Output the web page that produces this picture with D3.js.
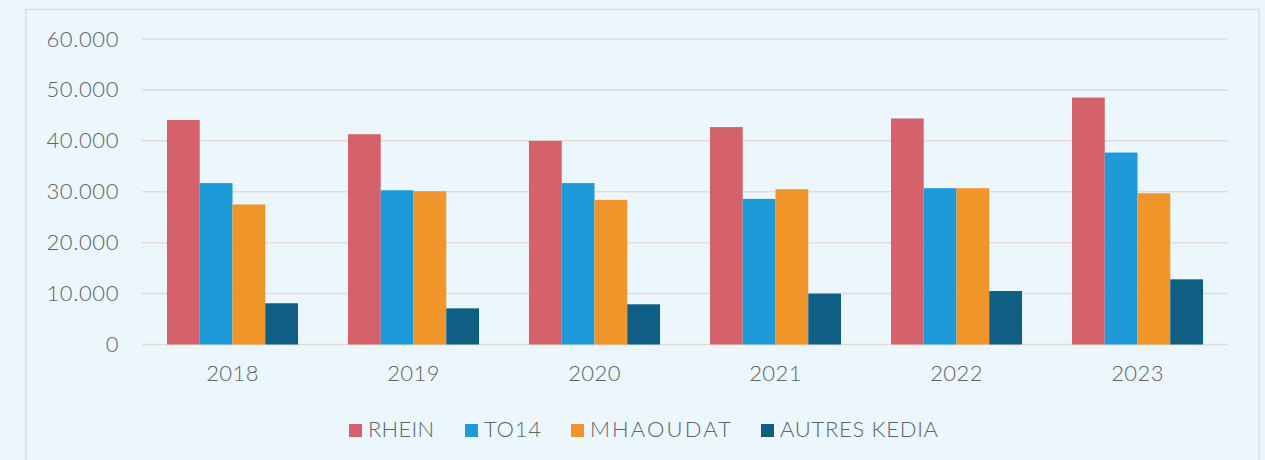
<!DOCTYPE html>
<html><head><meta charset="utf-8">
<script src="https://cdn.jsdelivr.net/npm/d3@7"></script>
<style>
html,body{margin:0;padding:0;background:#eaf5fc;}
svg{display:block;}
text{font-family:"Lato","Open Sans",sans-serif;font-weight:300;fill:#636363;}
</style></head><body>
<svg id="c" width="1265" height="460"></svg>
<script>
const categories = ["2018","2019","2020","2021","2022","2023"];
const seriesNames = ["RHEIN","TO14","MHAOUDAT","AUTRES KEDIA"];
const rhein    = [44100, 41300, 40000, 42700, 44400, 48500];
const to14     = [31700, 30300, 31700, 28600, 30700, 37700];
const mhaoudat = [27500, 30100, 28400, 30500, 30700, 29700];
const autres   = [8100, 7100, 7900, 10000, 10500, 12800];
const yTicks   = [0, 10000, 20000, 30000, 40000, 50000, 60000];
const colors   = ["#d5626a", "#1f9ad9", "#ef952a", "#0f5e84"];

(function(){
const values = [rhein, to14, mhaoudat, autres];
const svg = d3.select("#c");

// panel
svg.append("rect").attr("x",26).attr("y",9.5).attr("width",1233).attr("height",460)
  .attr("fill","#ecf6fd").attr("stroke","#dcdcdc").attr("stroke-width",1.5);

const pLeft = 142, pRight = 1228, pTop = 39, pBottom = 344.5;
const x = d3.scaleBand().domain(categories).range([pLeft,pRight]).paddingInner(0.276).paddingOuter(0.138);
const xs = d3.scaleBand().domain(seriesNames).range([0,x.bandwidth()]).padding(0);
const y = d3.scaleLinear().domain([0,60000]).range([pBottom,pTop]);

const fmt = v => v===0 ? "0" : d3.format(",")(v).replace(/,/g,".");

// gridlines
svg.append("g").selectAll("line").data(yTicks).join("line")
  .attr("x1",pLeft).attr("x2",pRight)
  .attr("y1",d=>y(d)).attr("y2",d=>y(d))
  .attr("stroke","#e4dbd5").attr("stroke-width",1.5);

// y axis labels
const yAxis = d3.axisLeft(y).tickValues(yTicks).tickFormat(fmt).tickSize(0).tickPadding(0);
const gy = svg.append("g").attr("transform","translate(119,0)").call(yAxis);
gy.select(".domain").remove();
gy.selectAll("text").attr("font-size",22).attr("fill","#636363")
  .style("font-family","Lato, sans-serif").style("font-weight","300").style("letter-spacing","0.6px");

// bars
categories.forEach((c,ci)=>{
  seriesNames.forEach((s,si)=>{
    svg.append("rect")
      .attr("x", x(c)+xs(s)).attr("width", xs.bandwidth())
      .attr("y", y(values[si][ci])).attr("height", pBottom - y(values[si][ci]))
      .attr("fill", colors[si]);
  });
});

// x axis labels
const xAxis = d3.axisBottom(x).tickSize(0).tickPadding(0);
const gx = svg.append("g").attr("transform",`translate(0,${pBottom+21})`).call(xAxis);
gx.select(".domain").remove();
gx.selectAll("text").attr("font-size",22).attr("fill","#636363")
  .style("font-family","Lato, sans-serif").style("font-weight","300").style("letter-spacing","0.4px");

// legend
const legendX = [349, 465, 571, 761];
const legendW = [66, 57, 141, 158];
const lg = svg.append("g");
seriesNames.forEach((s,i)=>{
  lg.append("rect").attr("x",legendX[i]).attr("y",424).attr("width",13).attr("height",13).attr("fill",colors[i]);
  lg.append("text").attr("x",legendX[i]+19).attr("y",437).attr("font-size",22)
    .attr("textLength",legendW[i]).attr("lengthAdjust","spacing").text(s);
});
})();
</script>
</body></html>
